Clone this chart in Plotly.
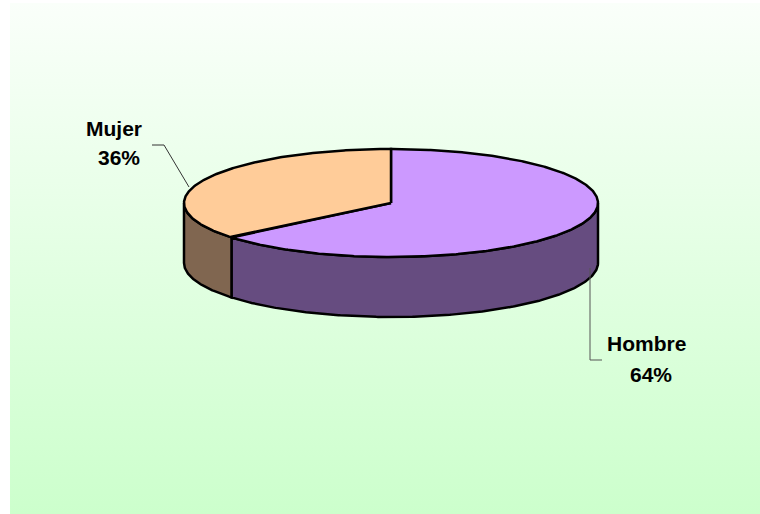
import numpy as np
import plotly.graph_objects as go

# ---- data ----
labels = ["Hombre", "Mujer"]
values = [64, 36]
pct_text = ["64%", "36%"]

# ---- style ----
top_colors = ["#CC99FF", "#FFCC99"]
side_colors = ["#664C80", "#806650"]
W, H = 760, 514
cx, cy, rx, ry, depth = 391, 203, 207, 54, 60

fig = go.Figure()

# gradient plot-area background
fig.add_trace(go.Scatter(
    x=[10, 800, 800, 10, 10], y=[3, 3, 560, 560, 3], fill="toself", mode="none",
    fillgradient=dict(type="vertical", colorscale=[[0, "#FAFFFA"], [1, "#CCFFCC"]],
                      start=3, stop=514),
    hoverinfo="skip", showlegend=False))


def arc(a, b, dy=0.0, n=None):
    if n is None:
        n = max(4, int(abs(b - a)) * 2)
    th = np.radians(np.linspace(a, b, n))
    return list(cx + rx * np.sin(th)), list(cy - ry * np.cos(th) + dy)


total = float(sum(values))
angles = [0.0]
for v in values:
    angles.append(angles[-1] + 360.0 * v / total)

# side walls (visible front half: 90..270 degrees)
for i in range(len(values)):
    a, b = max(angles[i], 90.0), min(angles[i + 1], 270.0)
    if b <= a:
        continue
    tx, ty = arc(a, b)
    bx, by = arc(b, a, dy=depth)
    xs = tx + bx + [tx[0]]
    ys = ty + by + [ty[0]]
    fig.add_trace(go.Scatter(x=xs, y=ys, fill="toself", mode="lines",
                             fillcolor=side_colors[i],
                             line=dict(color="black", width=2.5),
                             hoverinfo="skip", showlegend=False))

# top faces
for i in range(len(values)):
    ax_, ay_ = arc(angles[i], angles[i + 1])
    xs = [cx] + ax_ + [cx]
    ys = [cy] + ay_ + [cy]
    fig.add_trace(go.Scatter(x=xs, y=ys, fill="toself", mode="lines",
                             fillcolor=top_colors[i],
                             line=dict(color="black", width=2.5),
                             hoverinfo="skip", showlegend=False))

# leader lines
fig.add_trace(go.Scatter(x=[152, 164, 189], y=[145, 145, 187], mode="lines",
                         line=dict(color="#333333", width=1),
                         hoverinfo="skip", showlegend=False))
fig.add_trace(go.Scatter(x=[590, 590, 602], y=[268, 360, 360], mode="lines",
                         line=dict(color="#555555", width=1),
                         hoverinfo="skip", showlegend=False))

font = dict(family="Liberation Sans, Arial, sans-serif", size=21, color="black")
label_pos = {"Hombre": [(646, 343), (651, 374)], "Mujer": [(114, 128), (119, 157)]}
for lab, pct in zip(labels, pct_text):
    (x1, y1), (x2, y2) = label_pos[lab]
    fig.add_annotation(x=x1, y=y1, text="<b>%s</b>" % lab, showarrow=False,
                       xref="x", yref="y", xanchor="center", yanchor="middle", font=font)
    fig.add_annotation(x=x2, y=y2, text="<b>%s</b>" % pct, showarrow=False,
                       xref="x", yref="y", xanchor="center", yanchor="middle", font=font)

# white frame strips at left and top (outside the chart area)
fig.add_shape(type="rect", xref="x", yref="y", x0=-5, x1=10, y0=-5, y1=520,
              fillcolor="white", line_width=0, layer="below")
fig.add_shape(type="rect", xref="x", yref="y", x0=-5, x1=770, y0=-5, y1=3,
              fillcolor="white", line_width=0, layer="below")

fig.update_layout(
    width=W, height=H, margin=dict(l=0, r=0, t=0, b=0),
    paper_bgcolor="#E4FFE4", plot_bgcolor="#E4FFE4",
    xaxis=dict(range=[0, W], visible=False, fixedrange=True),
    yaxis=dict(range=[H, 0], visible=False, fixedrange=True),
    showlegend=False, hovermode=False,
)
fig.write_html("out.html", config={"displayModeBar": False},
               post_script="document.body.style.margin='0px';"
                           "document.body.style.overflow='hidden';"
                           "document.documentElement.style.overflow='hidden';")
